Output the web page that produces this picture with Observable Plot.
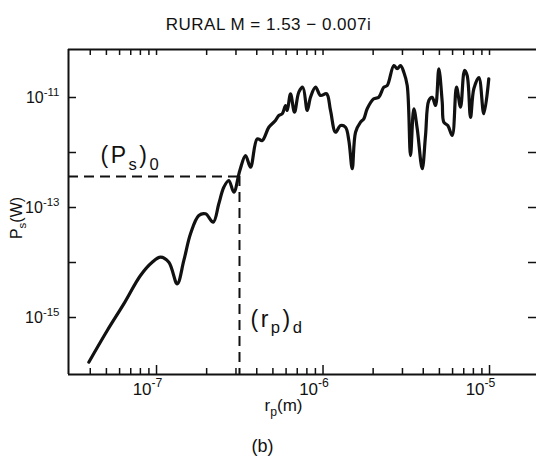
<!DOCTYPE html>
<html><head><meta charset="utf-8">
<script src="https://cdn.jsdelivr.net/npm/d3@7"></script>
<script src="https://cdn.jsdelivr.net/npm/@observablehq/plot@0.6"></script>
<style>
body{margin:0;background:#fff;font-family:"Liberation Sans",Arial,sans-serif;color:#111;}
#wrap{width:537px;height:460px;overflow:hidden;}
#title{height:40px;line-height:50px;text-align:center;padding-left:0px;font-size:17px;letter-spacing:0.5px;}
#chart{height:388px;}
#cap{height:32px;line-height:36px;text-align:center;padding-right:12px;font-size:18px;}
</style></head><body>
<div id="wrap"><div id="title">RURAL M = 1.53 − 0.007i</div><div id="chart"></div><div id="cap">(b)</div></div>
<script>
// particle radius r_p (m)
const rp = [3.92e-8, 5.06e-8, 6.36e-8, 8.01e-8, 9.42e-8, 1.057e-7, 1.186e-7, 1.331e-7, 1.459e-7, 1.600e-7,
  1.795e-7, 1.969e-7, 2.19e-7, 2.366e-7, 2.536e-7, 2.717e-7, 2.912e-7, 3.165e-7, 3.424e-7, 3.67e-7,
  4.025e-7, 4.313e-7, 4.726e-7, 5.18e-7, 5.425e-7, 5.69e-7, 5.953e-7, 6.095e-7, 6.38e-7, 6.74e-7,
  7.155e-7, 7.56e-7, 8.04e-7, 8.41e-7, 9.02e-7, 9.66e-7, 1.05e-6, 1.109e-6, 1.189e-6, 1.274e-6,
  1.365e-6, 1.429e-6, 1.498e-6, 1.568e-6, 1.68e-6, 1.758e-6, 1.842e-6, 2.018e-6, 2.162e-6, 2.318e-6,
  2.43e-6, 2.662e-6, 2.79e-6, 2.92e-6, 3.057e-6, 3.204e-6, 3.354e-6, 3.51e-6, 3.68e-6, 3.943e-6,
  4.127e-6, 4.32e-6, 4.528e-6, 4.74e-6, 4.961e-6, 5.2e-6, 5.315e-6, 5.617e-6, 5.97e-6, 6.335e-6,
  6.697e-6, 7.077e-6, 7.34e-6, 7.69e-6, 8.05e-6, 8.63e-6, 9.24e-6, 9.90e-6];
// scattered power P_s (W)
const ps = [1.54e-16, 5.81e-16, 1.77e-15, 5.81e-15, 1.01e-14, 1.25e-14, 1.01e-14, 4.10e-15, 1.09e-14, 3.33e-14,
  7.16e-14, 7.67e-14, 5.41e-14, 1.17e-13, 2.34e-13, 3.10e-13, 1.90e-13, 4.71e-13, 8.81e-13, 5.41e-13,
  1.77e-12, 1.65e-12, 2.88e-12, 3.82e-12, 4.71e-12, 5.06e-12, 7.16e-12, 5.81e-12, 1.17e-11, 5.41e-12,
  1.25e-11, 1.54e-11, 5.81e-12, 1.01e-11, 1.54e-11, 1.09e-11, 1.17e-11, 5.81e-12, 2.34e-12, 3.10e-12,
  2.88e-12, 1.65e-12, 5.06e-13, 2.34e-12, 3.56e-12, 4.10e-12, 6.24e-12, 9.46e-12, 1.01e-11, 1.54e-11,
  1.65e-11, 3.82e-11, 3.33e-11, 3.82e-11, 2.88e-11, 1.65e-11, 8.81e-13, 6.24e-12, 2.70e-12, 5.06e-13,
  2.04e-12, 8.81e-12, 1.01e-11, 7.16e-12, 3.33e-11, 8.22e-12, 3.56e-12, 3.10e-12, 2.04e-12, 1.54e-11,
  6.67e-12, 3.10e-11, 2.51e-11, 4.33e-12, 1.44e-11, 2.31e-11, 5.06e-12, 2.19e-11];
// threshold (P_s)_0 and (r_p)_d
const P0 = 3.67e-13;
const rd = 3.15e-7;
// axes
const xDomain = [2.96e-8, 1.915e-5];
const yDomain = [9.2e-17, 7.46e-11];
const xMajor = [1e-7, 1e-6, 1e-5];
const xMinor = [4e-8, 5e-8, 6e-8, 7e-8, 8e-8, 9e-8, 2e-7, 3e-7, 4e-7, 5e-7, 6e-7, 7e-7, 8e-7, 9e-7,
  2e-6, 3e-6, 4e-6, 5e-6, 6e-6, 7e-6, 8e-6, 9e-6];
const yTicks = [1e-11, 1e-12, 1e-13, 1e-14, 1e-15];
const yLabeled = [1e-11, 1e-13, 1e-15];
const texts = {xLabel: "r_{p}(m)", yLabel: "P_{s}(W)", p0: "(P_{s})_{0}", rd: "(r_{p})_{d}"};

const W = 537, H = 388, mT = 9, mB = 54, mL = 68, mR = 1;
const fw = W - mL - mR, fh = H - mT - mB;
const pow10 = d => "10^{-" + Math.round(-Math.log10(d)) + "}";
const data = rp.map((r, i) => ({r, p: ps[i]}));

const chart = Plot.plot({
  width: W, height: H,
  marginTop: mT, marginBottom: mB, marginLeft: mL, marginRight: mR,
  style: {fontFamily: "'Liberation Sans', Arial, sans-serif", color: "#111", background: "white", overflow: "visible"},
  x: {type: "log", domain: xDomain, axis: null},
  y: {type: "log", domain: yDomain, axis: null},
  marks: [
    // frame: left, bottom, top
    Plot.ruleX([xDomain[0]], {strokeWidth: 2}),
    Plot.ruleY(yDomain, {strokeWidth: 2}),
    // inward ticks
    Plot.ruleX(xMajor, {insetTop: fh - 9, strokeWidth: 1.5}),
    Plot.ruleX(xMinor, {insetTop: fh - 6, strokeWidth: 1.5}),
    Plot.ruleX(xMajor.concat(xMinor), {insetBottom: fh - 6, strokeWidth: 1.5}),
    Plot.ruleY(yTicks, {insetRight: fw - 8, strokeWidth: 1.5}),
    Plot.ruleY(yTicks, {insetLeft: fw - 8, strokeWidth: 1.5}),
    // tick labels
    Plot.axisX(xMajor, {anchor: "bottom", tickSize: 0, tickPadding: 8, dx: -9, fontSize: 17, tickFormat: pow10, label: null}),
    Plot.axisY(yLabeled, {anchor: "left", tickSize: 0, tickPadding: 9, fontSize: 16, tickFormat: pow10, label: null}),
    // dashed guides
    Plot.ruleY([P0], {y: d => d, x1: () => xDomain[0], x2: () => rd, strokeWidth: 2, strokeDasharray: "10,6"}),
    Plot.ruleX([rd], {x: d => d, y1: () => P0, y2: () => yDomain[0], strokeWidth: 2, strokeDasharray: "10,6"}),
    // curve
    Plot.line(data, {x: "r", y: "p", strokeWidth: 3.2, curve: "catmull-rom", strokeLinejoin: "round", strokeLinecap: "round"}),
    // annotations
    Plot.text([P0], {y: d => d, frameAnchor: "left", dx: 32, dy: -21, textAnchor: "start", fontSize: 23, text: () => texts.p0}),
    Plot.text([rd], {x: d => d, frameAnchor: "bottom", dx: 11, dy: -48, textAnchor: "start", fontSize: 23, text: () => texts.rd}),
    Plot.text([texts.xLabel], {frameAnchor: "bottom", dx: -19, dy: 36, fontSize: 17, text: d => d}),
    Plot.text([texts.yLabel], {frameAnchor: "left", dx: -52, dy: 6, rotate: -90, textAnchor: "middle", fontSize: 16, text: d => d})
  ]
});
document.getElementById("chart").appendChild(chart);

// rich text: ^{...} superscript, _{...} subscript
const svgns = "http://www.w3.org/2000/svg";
function richify(el) {
  const s = el.textContent;
  if (!/[\^_]\{/.test(s)) return;
  const fs = parseFloat(getComputedStyle(el).fontSize) || 14;
  if (fs >= 20) el.style.letterSpacing = "2.5px";
  const parts = [];
  const re = /([\^_])\{([^}]*)\}|([^\^_]+)/g;
  let m;
  while ((m = re.exec(s))) parts.push(m[1] ? {type: m[1], text: m[2]} : {type: "", text: m[3]});
  while (el.firstChild) el.removeChild(el.firstChild);
  let cur = 0;
  for (const p of parts) {
    const target = p.type === "^" ? -0.42 * fs : p.type === "_" ? 0.3 * fs : 0;
    const t = document.createElementNS(svgns, "tspan");
    if (target - cur !== 0) t.setAttribute("dy", (target - cur).toFixed(2));
    cur = target;
    if (p.type) t.setAttribute("font-size", (0.72 * fs).toFixed(1));
    t.textContent = p.text;
    el.appendChild(t);
  }
}
chart.querySelectorAll("text").forEach(richify);
</script>
</body></html>
